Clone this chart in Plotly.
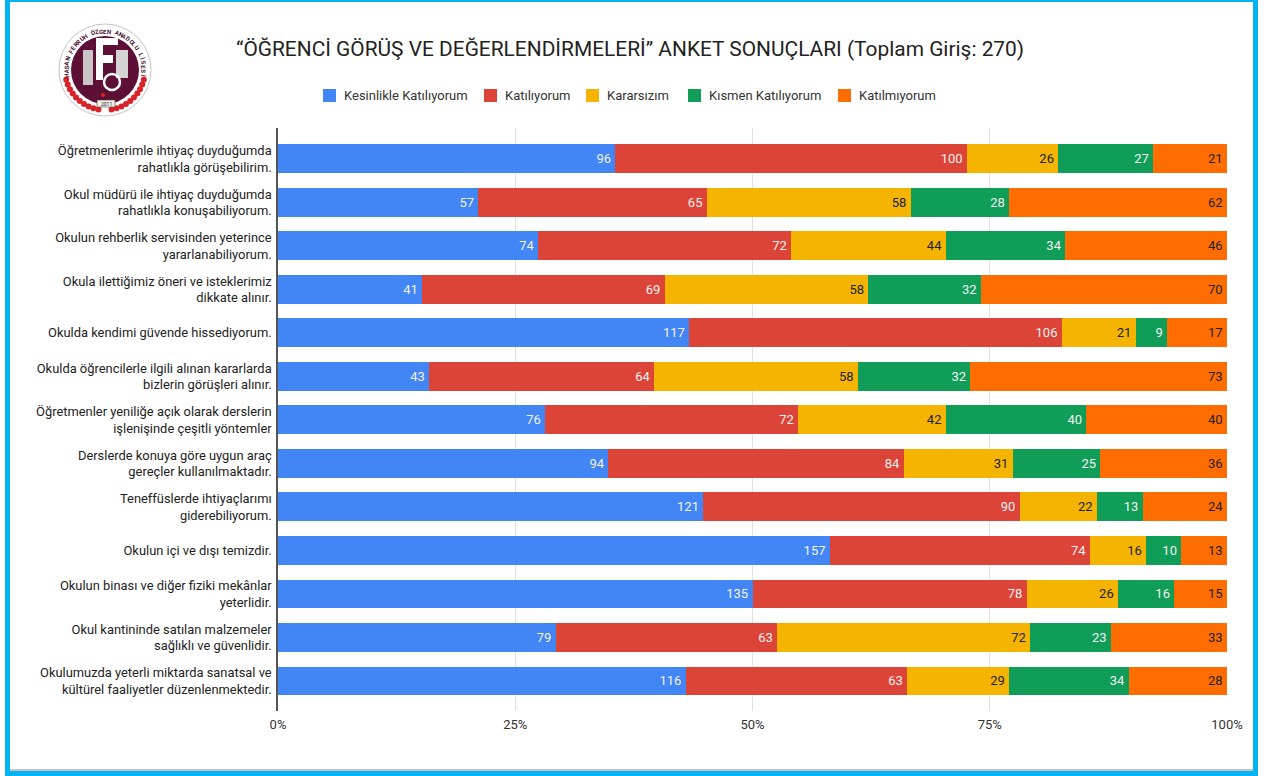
import math
import plotly.graph_objects as go

W, H = 1272, 776
L, R, T, B = 278, 1227, 128, 711

categories = [
    "Öğretmenlerimle ihtiyaç duyduğumda<br>rahatlıkla görüşebilirim.",
    "Okul müdürü ile ihtiyaç duyduğumda<br>rahatlıkla konuşabiliyorum.",
    "Okulun rehberlik servisinden yeterince<br>yararlanabiliyorum.",
    "Okula ilettiğimiz öneri ve isteklerimiz<br>dikkate alınır.",
    "Okulda kendimi güvende hissediyorum.",
    "Okulda öğrencilerle ilgili alınan kararlarda<br>bizlerin görüşleri alınır.",
    "Öğretmenler yeniliğe açık olarak derslerin<br>işlenişinde çeşitli yöntemler",
    "Derslerde konuya göre uygun araç<br>gereçler kullanılmaktadır.",
    "Teneffüslerde ihtiyaçlarımı<br>giderebiliyorum.",
    "Okulun içi ve dışı temizdir.",
    "Okulun binası ve diğer fiziki mekânlar<br>yeterlidir.",
    "Okul kantininde satılan malzemeler<br>sağlıklı ve güvenlidir.",
    "Okulumuzda yeterli miktarda sanatsal ve<br>kültürel faaliyetler düzenlenmektedir.",
]
kesinlikle = [96, 57, 74, 41, 117, 43, 76, 94, 121, 157, 135, 79, 116]
katiliyorum = [100, 65, 72, 69, 106, 64, 72, 84, 90, 74, 78, 63, 63]
kararsizim = [26, 58, 44, 58, 21, 58, 42, 31, 22, 16, 26, 72, 29]
kismen = [27, 28, 34, 32, 9, 32, 40, 25, 13, 10, 16, 23, 34]
katilmiyorum = [21, 62, 46, 70, 17, 73, 40, 36, 24, 13, 15, 33, 28]

series = [
    ("Kesinlikle Katılıyorum", kesinlikle, "#4285F4", "#f2f2f2"),
    ("Katılıyorum", katiliyorum, "#DB4437", "#f2f2f2"),
    ("Kararsızım", kararsizim, "#F4B400", "#222222"),
    ("Kısmen Katılıyorum", kismen, "#0F9D58", "#f2f2f2"),
    ("Katılmıyorum", katilmiyorum, "#FF6D00", "#222222"),
]
tick_vals = [0, 25, 50, 75, 100]
tick_text = ["0%", "25%", "50%", "75%", "100%"]
title_text = "“ÖĞRENCİ GÖRÜŞ VE DEĞERLENDİRMELERİ” ANKET SONUÇLARI (Toplam Giriş: 270)"
legend_x = [323, 484, 586, 688, 838]

px = lambda x: (x - L) / (R - L)
py = lambda y: (B - y) / (B - T)

fig = go.Figure()
for name, vals, col, tc in series:
    fig.add_trace(go.Bar(
        name=name, y=categories, x=vals, orientation="h",
        marker=dict(color=col, line=dict(width=0)),
        text=[f"{v}\u200a" for v in vals], textposition="inside", insidetextanchor="end",
        textangle=0, constraintext="none",
        insidetextfont=dict(family="Roboto", size=13, color=tc),
        hoverinfo="x+y+name", showlegend=False,
    ))

shapes = []
annotations = []
def rect(x0, y0, x1, y1, color, layer="above", line=None):
    shapes.append(dict(type="rect", xref="paper", yref="paper", x0=px(x0), x1=px(x1),
                       y0=py(y0), y1=py(y1), fillcolor=color,
                       line=dict(width=0.6 if line else 0, color=line or color), layer=layer))
def circ(cx, cy, r, fill, line=None, lw=0):
    shapes.append(dict(type="circle", xref="paper", yref="paper", x0=px(cx - r), x1=px(cx + r),
                       y0=py(cy - r), y1=py(cy + r), fillcolor=fill,
                       line=dict(width=lw, color=line or fill), layer="above"))
def label(x, y, text, size, color, xanchor="center", angle=0, family="Roboto"):
    annotations.append(dict(x=px(x), y=py(y), xref="paper", yref="paper", text=text,
                            showarrow=False, xanchor=xanchor, yanchor="middle", textangle=angle,
                            borderpad=0, borderwidth=0,
                            font=dict(family=family, size=size, color=color)))

# page frame
BLUE = "#00B4F1"
rect(5, 0, 10, 776, BLUE, "below")
rect(1253, 0, 1258, 776, BLUE, "below")
rect(5, 0, 1258, 2, BLUE, "below")
rect(5, 771, 1258, 776, BLUE, "below")
rect(10, 769, 1253, 771, "#c4c4c4", "below")

# emblem
cx, cy = 105, 70
MAROON = "#5E0F36"
circ(cx, cy, 46, "#ffffff", "#c4c4c4", 1)
for i in range(10):
    a = math.radians(104 + i * 7.4)
    for side in (-1, 1):
        ex = cx + side * 40 * math.sin(a)
        ey = cy - 40 * math.cos(a)
        circ(ex, ey, 3, "#D8232A")
circ(cx, cy, 34, MAROON)
rect(83, 50, 93, 85, "#c9c6c6")
rect(116, 50, 128, 78, "#d5d3d3")
rect(96, 38, 103, 80, "#ffffff")
rect(96, 38, 118, 45, "#ffffff")
rect(96, 55, 113, 63, "#ffffff")
circ(112, 82, 8, "rgba(0,0,0,0)", "#ffffff", 2.5)
circ(103, 95, 2, "#D8232A")
rect(97, 100, 115, 107, "#f4f0e8", line="#444444")
label(106, 103.5, "2011", 5, "#222222")
ring = "HASAN FERRUH ÖZGEN ANADOLU LİSESİ"
n = len(ring)
for i, ch in enumerate(ring):
    deg = -98 + 196 * i / (n - 1)
    a = math.radians(deg)
    label(cx + 39 * math.sin(a), cy - 39 * math.cos(a), f"<b>{ch}</b>", 6, "#4a1030", angle=deg)

# title and legend
label(630, 49, title_text, 20.9, "#222222")
for (name, vals, col, tc), lx in zip(series, legend_x):
    rect(lx, 89, lx + 13, 102, col)
    label(lx + 21, 95, name, 13, "#333333", xanchor="left")

fig.update_layout(
    width=W, height=H, autosize=False,
    margin=dict(l=L, r=W - R, t=T, b=H - B, pad=0),
    paper_bgcolor="#ffffff", plot_bgcolor="#ffffff",
    barmode="stack", barnorm="percent", bargap=0.335,
    font=dict(family="Roboto", size=13, color="#222222"),
    shapes=shapes, annotations=annotations,
    showlegend=False,
    xaxis=dict(range=[0, 100], tickvals=tick_vals, ticktext=tick_text, showgrid=True,
               gridcolor="#e0e0e0", gridwidth=1, zeroline=False, showline=False,
               ticks="", ticklabelstandoff=4,
               tickfont=dict(family="Roboto", size=13, color="#333333"), automargin=False),
    yaxis=dict(autorange=False, range=[12.69, -0.71], type="category", showgrid=False,
               showline=True, linecolor="#555555", linewidth=1.5, ticks="", ticklen=0,
               ticklabelstandoff=2,
               tickfont=dict(family="Roboto", size=12.9, color="#222222"), automargin=False),
)

fig.write_html("out.html", config=dict(displayModeBar=False),
               post_script="document.body.style.margin='0';document.body.style.overflow='hidden';")
